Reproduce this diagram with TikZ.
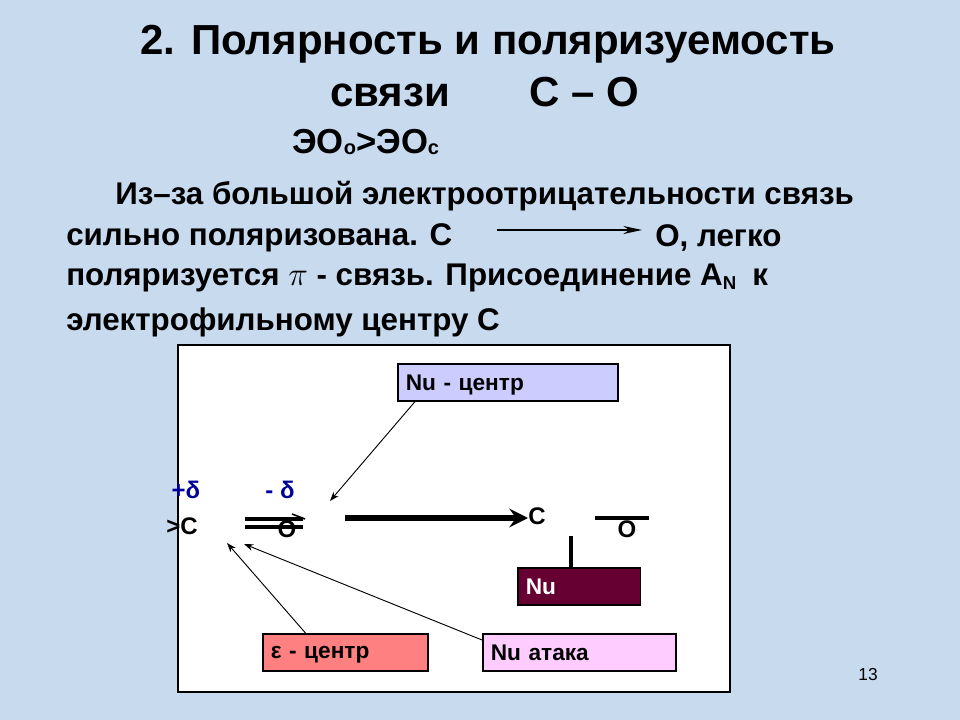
\documentclass[tikz,border=0pt]{standalone}
\usepackage{fontspec}
\setmainfont{Liberation Sans}
\usetikzlibrary{arrows.meta}
\definecolor{bgblue}{RGB}{200,218,238}
\definecolor{lavbox}{RGB}{204,204,255}
\definecolor{marbox}{RGB}{102,0,51}
\definecolor{salbox}{RGB}{255,128,128}
\definecolor{pinkbox}{RGB}{255,204,255}
\definecolor{dblue}{RGB}{0,0,153}
\tikzset{
  lbl/.style={inner sep=0pt, font=\fontsize{18}{21}\bfseries\selectfont},
  txt/.style={anchor=west, inner sep=0pt, font=\fontsize{23.5}{28}\bfseries\selectfont},
  tag/.style={draw, line width=1.2pt, anchor=north west, minimum height=27.75pt, inner xsep=6pt, inner ysep=4pt, text depth=0pt,
    align=left, font=\fontsize{17}{20}\bfseries\selectfont},
  pt/.style={-{Stealth[length=7pt,width=5pt]}, line width=0.7pt}
}
\begin{document}
\begin{tikzpicture}[x=0.75pt,y=-0.75pt]
    \fill[bgblue] (0,0) rectangle (960,720);
    \useasboundingbox (0,0) rectangle (960,720);
    % title
    \node[font=\fontsize{31.5}{36}\bfseries\selectfont, inner sep=0pt] (title1) at (488,44) {2. Полярность и поляризуемость};
    \node[font=\fontsize{31.5}{36}\bfseries\selectfont, inner sep=0pt, anchor=west] (title2) at (330,92) {связи \hspace{42pt} C -- O};
    \node[txt, font=\fontsize{26}{30}\bfseries\selectfont] (eo) at (292,142) {ЭО\raisebox{-1pt}{\fontsize{15}{16}\bfseries\selectfont o}>ЭО\raisebox{-1pt}{\fontsize{15}{16}\bfseries\selectfont c}};
    % paragraph
    \node[txt] (l1) at (115,196) {Из--за большой электроотрицательности связь};
    \node[txt] (l2a) at (66,238) {сильно поляризована. C};
    \node[txt] (l2b) at (655,238) {O, легко};
    \node[txt] (l3) at (66,278) {поляризуется $\pi$ - связь. Присоединение A\raisebox{-3pt}{\fontsize{14}{16}\bfseries\selectfont N}\hspace{12pt}к};
    \node[txt] (l4) at (66,322) {электрофильному центру C};
    \coordinate (ar1) at (497,230);
    \coordinate (ar2) at (642,230);
    \draw[-{Stealth[length=14pt,width=6pt]}, line width=1.3pt] (ar1) -- (ar2);
    % frame
    \draw[fill=white, line width=2pt] (178,345) rectangle (730,692);
    % boxes
    \node[tag, fill=lavbox, text width=153pt] (nuc) at (397,363) {Nu - центр};
    \node[tag, fill=marbox, text=white, text width=80pt] (nu) at (517,567) {Nu};
    \node[tag, fill=salbox, text width=112pt] (ec) at (262,633) {ε - центр};
    \node[tag, fill=pinkbox, text width=133pt] (nua) at (482,633) {Nu атака};
    % molecule
    \node[lbl, text=dblue] (dp) at (186,490) {+δ};
    \node[lbl, text=dblue] (dm) at (280,490) {- δ};
    \node[lbl] (c1) at (182,526) {>C};
    \node[lbl] (o1) at (287,529) {O};
    \coordinate (b1) at (245,519);
    \coordinate (b2) at (303,519);
    \coordinate (b3) at (245,527);
    \coordinate (b4) at (303,527);
    \draw[line width=2.6pt] (b1) -- (b2);
    \draw[line width=2.6pt] (b3) -- (b4);
    \draw[line width=1.2pt] (292,514) -- (305,519);
    \coordinate (ra1) at (345,518);
    \coordinate (ra2) at (528,518);
    \draw[line width=5pt, -{Stealth[length=14pt,width=14pt,inset=5pt]}] (ra1) -- (ra2);
    \node[lbl] (c2) at (537,516) {C};
    \node[lbl] (o2) at (627,529) {O};
    \coordinate (s1) at (595,518);
    \coordinate (s2) at (649,518);
    \draw[line width=2.6pt] (s1) -- (s2);
    \coordinate (v1) at (571,536);
    \draw[line width=2.6pt] (v1) -- (nu.north -| v1);
    % pointers
    \coordinate (pnu) at (330,501);
    \coordinate (pe) at (227,543);
    \coordinate (pa) at (244,544);
    \draw[pt] (nuc.south west) ++(18,0) -- (pnu);
    \draw[pt] (ec.north) ++(-40,0) -- (pe);
    \draw[pt] (nua.north west) ++(0,7) -- (pa);
    \node[font=\fontsize{13}{15}\rmfamily\selectfont] (pg) at (868,675) {13};
\end{tikzpicture}
\end{document}
